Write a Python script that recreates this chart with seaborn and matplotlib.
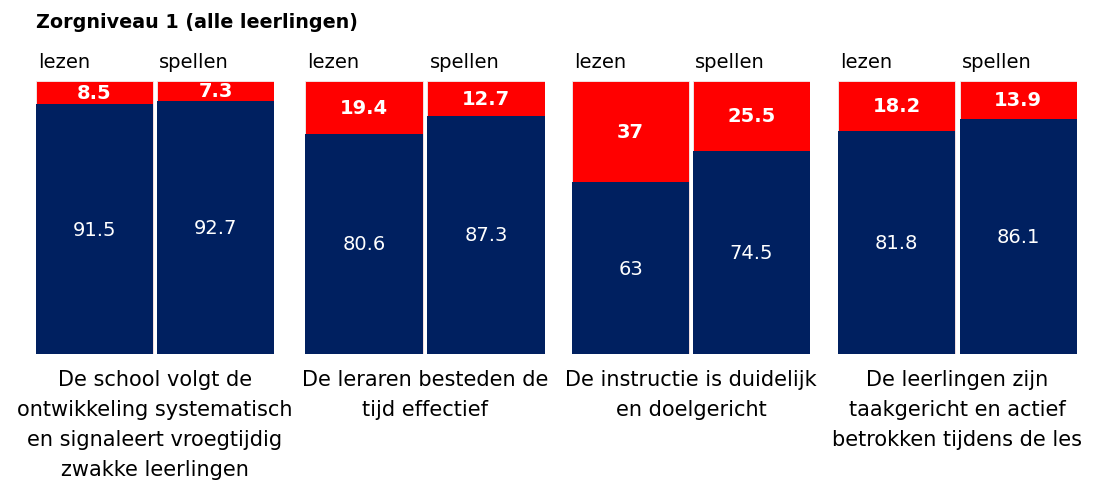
import matplotlib
matplotlib.use("Agg")
import matplotlib.pyplot as plt
import seaborn as sns
import pandas as pd

# data
groups = [
    "De school volgt de\nontwikkeling systematisch\nen signaleert vroegtijdig\nzwakke leerlingen",
    "De leraren besteden de\ntijd effectief",
    "De instructie is duidelijk\nen doelgericht",
    "De leerlingen zijn\ntaakgericht en actief\nbetrokken tijdens de les",
]
subjects = ["lezen", "spellen"]
navy_vals = [[91.5, 92.7], [80.6, 87.3], [63, 74.5], [81.8, 86.1]]
red_vals = [[8.5, 7.3], [19.4, 12.7], [37, 25.5], [18.2, 13.9]]

RED = "#FF0000"
NAVY = "#002060"

sns.set_theme(style="white")
plt.rcParams["font.family"] = ["DejaVu Sans"]
plt.rcParams["text.color"] = "black"

fig = plt.figure(figsize=(10.95, 4.85), dpi=100)

# pixel layout of each group (left edge, width)
lefts = [36, 305, 572, 838]
widths = [238, 240, 238, 239]
bottom = (485 - 355) / 485
height = (355 - 82) / 485
bw = 117 / 121

fig.text(36 / 1095, 1 - 22 / 485, "Zorgniveau 1 (alle leerlingen)",
         fontsize=13.8, fontweight="bold", ha="left", va="center")

for g in range(len(groups)):
    df = pd.DataFrame({
        "subject": subjects,
        "navy": navy_vals[g],
        "red": red_vals[g],
    })
    df["total"] = df["navy"] + df["red"]
    ax = fig.add_axes([lefts[g] / 1095, bottom, widths[g] / 1095, height])
    sns.barplot(data=df, x="subject", y="total", color=RED, width=bw,
                saturation=1, ax=ax, edgecolor="#f0f0f0", linewidth=0.6)
    sns.barplot(data=df, x="subject", y="navy", color=NAVY, width=bw,
                saturation=1, ax=ax, linewidth=0)
    ax.set_xlim(-bw / 2, 1 + bw / 2)
    ax.set_ylim(0, 100)
    ax.set_axis_off()
    for i, row in df.iterrows():
        ax.text(i, row["navy"] / 2, f"{row['navy']:g}", color="white",
                fontsize=14, ha="center", va="center")
        ax.text(i, row["navy"] + row["red"] / 2, f"{row['red']:g}",
                color="white", fontsize=14, fontweight="bold",
                ha="center", va="center")
        ax.text(i - bw / 2 + 0.02, 107, row["subject"], fontsize=14,
                ha="left", va="center", clip_on=False)
    ax.text(0.5, -5.5, groups[g], fontsize=15, ha="center", va="top",
            linespacing=1.62, clip_on=False)

fig.savefig("out.png", dpi=100)
